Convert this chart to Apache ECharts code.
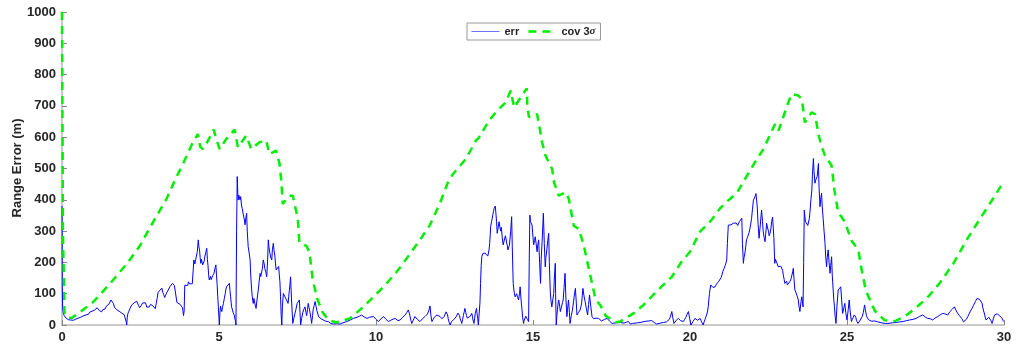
<!DOCTYPE html>
<html>
<head>
<meta charset="utf-8">
<script src="https://cdn.jsdelivr.net/npm/echarts@6/dist/echarts.min.js"></script>
<style>html,body{margin:0;padding:0;background:#fff;}#c{width:1016px;height:350px;}</style>
</head>
<body>
<div id="c"></div>
<script>
const xTicks = [0, 5, 10, 15, 20, 25, 30];
const yTicks = [0, 100, 200, 300, 400, 500, 600, 700, 800, 900, 1000];
const seriesNames = ['err', 'cov 3σ'];
const yAxisTitle = 'Range Error (m)';

const errPoints = [
[0,380],[0.01,120],[0.02,55],[0.04,38],[0.07,30],[0.1,26],[0.13,22],[0.16,19],[0.2,17],[0.24,20],[0.28,16],[0.32,18],[0.36,15],[0.4,21],[0.44,19],[0.48,24],[0.52,22],[0.56,28],[0.6,25],[0.64,31],[0.68,29],[0.72,35],[0.76,32],[0.8,38],[0.84,34],[0.88,41],[0.92,37],[0.96,44],[1.0,40],[1.04,48],[1.08,45],[1.12,55],[1.16,58],[1.19,46],[1.22,50],[1.26,42],[1.3,49],[1.34,55],[1.37,51],[1.41,60],[1.45,57],[1.49,66],[1.53,72],[1.56,80],[1.58,86],[1.61,75],[1.64,68],[1.67,57],[1.7,53],[1.74,49],[1.78,52],[1.82,44],[1.86,46],[1.9,38],[1.94,41],[1.98,33],[2.02,30],[2.05,8],[2.06,0],[2.08,25],[2.1,37],[2.13,44],[2.16,52],[2.19,48],[2.22,64],[2.26,60],[2.3,71],[2.34,67],[2.38,76],[2.41,70],[2.44,62],[2.47,55],[2.5,50],[2.53,63],[2.56,70],[2.59,76],[2.62,68],[2.66,71],[2.7,57],[2.74,62],[2.78,58],[2.82,66],[2.86,70],[2.9,61],[2.94,58],[2.97,52],[3.0,68],[3.03,85],[3.06,104],[3.09,98],[3.12,111],[3.15,108],[3.18,118],[3.21,104],[3.24,97],[3.27,88],[3.3,95],[3.33,102],[3.36,108],[3.4,115],[3.44,123],[3.48,128],[3.52,133],[3.55,139],[3.58,126],[3.61,131],[3.64,120],[3.66,72],[3.69,68],[3.72,74],[3.76,66],[3.8,63],[3.84,55],[3.87,30],[3.89,45],[3.91,127],[3.94,122],[3.97,130],[4.0,126],[4.03,138],[4.06,131],[4.09,135],[4.12,128],[4.15,132],[4.18,127],
[4.2,208],[4.23,195],[4.26,210],[4.29,213],[4.31,235],[4.34,272],[4.36,250],[4.38,240],[4.4,215],[4.42,197],[4.44,210],[4.46,205],[4.48,192],[4.5,187],[4.53,205],[4.55,220],[4.58,232],[4.61,245],[4.63,210],[4.65,190],[4.67,160],[4.69,144],[4.71,150],[4.73,155],[4.75,145],[4.77,149],[4.8,158],[4.84,165],[4.87,180],[4.9,192],[4.92,160],[4.94,130],[4.96,90],[4.98,58],[5.0,20],[5.01,0],[5.03,40],[5.05,60],[5.07,50],[5.09,43],[5.11,55],[5.14,69],[5.17,85],[5.2,101],[5.22,115],[5.24,122],[5.27,118],[5.3,122],[5.33,133],[5.35,110],[5.37,90],[5.4,58],[5.43,48],[5.45,40],[5.48,33],[5.51,27],[5.53,10],[5.54,0],[5.56,300],
[5.58,474],[5.6,420],[5.61,399],[5.63,415],[5.65,420],[5.67,400],[5.69,410],[5.71,390],[5.72,380],[5.74,372],[5.75,367],[5.77,355],[5.79,350],[5.81,335],[5.83,320],[5.85,340],[5.88,357],[5.9,300],[5.93,250],[5.96,230],[5.99,208],[6.01,160],[6.04,112],[6.06,90],[6.09,69],[6.11,85],[6.13,80],[6.16,60],[6.18,53],[6.21,80],[6.25,112],[6.28,140],[6.31,165],[6.33,155],[6.35,149],[6.38,180],[6.41,208],[6.44,195],[6.46,180],[6.49,170],[6.52,154],[6.55,210],[6.57,272],[6.59,250],[6.62,230],[6.65,215],[6.68,208],[6.7,240],[6.73,261],[6.75,240],[6.78,220],[6.8,195],[6.82,176],[6.86,182],[6.9,187],[6.92,160],[6.94,138],[6.96,90],[6.98,30],[7.0,0],[7.02,60],
[7.05,101],[7.08,95],[7.1,90],[7.13,85],[7.15,80],[7.18,75],[7.2,69],[7.22,90],[7.24,110],[7.26,130],[7.28,154],[7.31,80],[7.35,5],[7.38,20],[7.42,37],[7.45,50],[7.49,69],[7.52,75],[7.56,80],[7.58,40],[7.6,0],[7.63,20],[7.67,40],[7.7,50],[7.74,58],[7.77,40],[7.79,30],[7.82,50],[7.84,69],[7.87,55],[7.9,40],[7.93,20],[7.95,5],[7.98,30],[8.0,50],[8.03,62],[8.06,75],[8.09,60],[8.12,45],[8.15,35],[8.17,27],[8.21,24],[8.25,20],[8.28,22],[8.32,16],[8.36,14],[8.4,12],[8.44,13],[8.48,11],[8.52,8],[8.56,5],[8.6,6],[8.64,3],[8.7,5],[8.75,4],[8.8,6],[8.85,3],[8.9,5],[8.95,7],[9.01,9],[9.07,11],[9.12,14],[9.18,16],[9.23,19],[9.28,21],[9.34,24],[9.4,25],[9.47,28],[9.54,32],[9.58,29],[9.62,26],[9.66,23],[9.71,21],[9.75,24],[9.8,25],[9.86,22],[9.92,27],[9.96,22],[10.0,18],[10.04,14],[10.08,11],[10.12,16],[10.16,20],[10.2,24],[10.24,27],[10.28,22],[10.32,18],[10.36,14],[10.4,11],[10.45,14],[10.5,17],[10.55,19],[10.61,21],[10.65,17],[10.7,14],[10.74,18],[10.77,16],[10.81,20],[10.85,25],[10.89,28],[10.93,32],[10.98,40],[11.03,48],[11.06,38],[11.08,30],[11.11,15],[11.14,5],[11.17,12],[11.2,18],[11.24,27],[11.28,22],[11.32,18],[11.36,14],[11.4,11],[11.44,16],[11.48,20],[11.52,24],[11.56,27],[11.6,30],[11.64,35],[11.68,45],[11.72,61],[11.75,30],[11.78,11],[11.82,18],[11.86,25],[11.9,28],[11.94,32],[11.99,29],[12.04,27],[12.07,24],[12.1,20],[12.13,18],[12.15,16],[12.18,28],[12.2,35],[12.23,42],[12.25,48],[12.28,32],[12.3,20],[12.33,8],[12.36,0],[12.4,10],[12.44,15],[12.48,18],[12.52,21],[12.55,26],[12.58,30],[12.61,38],[12.63,43],[12.66,30],[12.68,20],[12.71,12],[12.73,5],[12.76,18],[12.78,30],[12.81,42],[12.83,53],[12.86,40],[12.88,30],[12.91,22],[12.94,16],[12.97,22],[13.0,28],[13.03,33],[13.05,37],[13.07,28],[13.08,20],[13.1,12],[13.12,5],[13.14,20],[13.16,37],[13.18,45],[13.2,53],[13.22,35],[13.24,20],[13.26,0],[13.29,5],
[13.31,70],[13.33,133],[13.35,190],[13.37,218],[13.4,228],[13.44,234],[13.47,230],[13.49,225],[13.51,232],[13.53,229],[13.56,220],[13.58,224],[13.6,240],[13.62,260],[13.64,290],[13.65,314],[13.68,330],[13.7,340],[13.72,352],[13.74,362],[13.76,372],[13.78,370],[13.8,380],[13.82,378],[13.84,330],[13.86,293],[13.88,305],[13.9,310],[13.92,330],[13.93,325],[13.95,310],[13.97,300],[13.99,312],[14.0,304],[14.02,280],[14.05,256],[14.07,265],[14.1,270],[14.12,285],[14.14,277],[14.16,262],[14.18,255],[14.2,240],[14.22,245],[14.25,255],[14.27,261],[14.29,300],[14.32,346],[14.34,250],[14.37,133],[14.4,105],[14.43,90],[14.45,95],[14.48,100],[14.51,88],[14.54,80],[14.57,100],[14.59,122],[14.62,80],[14.65,48],[14.67,25],[14.7,5],[14.72,15],[14.75,20],[14.77,28],[14.79,32],[14.82,18],[14.86,11],[14.88,200],[14.9,351],[14.92,330],[14.95,325],[14.97,319],[15.0,280],[15.02,256],[15.05,270],[15.07,282],[15.1,260],[15.13,234],[15.15,255],[15.18,272],[15.21,200],[15.24,133],[15.26,210],[15.29,266],[15.31,310],[15.33,357],[15.36,260],[15.39,186],[15.41,215],[15.44,240],[15.47,270],[15.5,293],[15.52,200],[15.55,106],[15.57,80],[15.6,58],[15.63,80],[15.66,101],[15.68,150],[15.71,197],[15.72,100],[15.74,0],[15.76,30],[15.78,50],[15.8,70],[15.82,80],[15.85,60],[15.87,43],[15.9,55],[15.92,60],[15.94,72],[15.96,80],[15.99,120],[16.02,165],[16.05,80],[16.08,27],[16.1,50],[16.13,80],[16.16,40],[16.18,5],
[16.2,18],[16.22,30],[16.25,45],[16.27,58],[16.31,90],[16.35,117],[16.38,70],[16.4,32],[16.43,36],[16.45,40],[16.48,45],[16.5,48],[16.53,60],[16.55,70],[16.57,95],[16.59,117],[16.62,95],[16.66,75],[16.7,52],[16.74,32],[16.77,65],[16.8,96],[16.84,60],[16.88,27],[16.9,22],[16.93,20],[16.95,18],[16.98,16],[17.01,22],[17.04,25],[17.06,23],[17.09,21],[17.12,18],[17.15,15],[17.18,13],[17.2,11],[17.24,15],[17.28,18],[17.32,20],[17.36,21],[17.4,16],[17.44,12],[17.48,8],[17.52,5],[17.58,6],[17.65,7],[17.71,9],[17.78,8],[17.84,7],[17.9,6],[17.97,9],[18.04,11],[18.07,7],[18.1,3],[18.17,5],[18.25,6],[18.33,7],[18.41,8],[18.5,10],[18.6,12],[18.69,13],[18.78,14],[18.82,11],[18.86,8],[18.9,5],[18.94,3],[19.0,5],[19.05,6],[19.1,7],[19.15,8],[19.2,9],[19.25,10],[19.31,11],[19.34,18],[19.37,25],[19.4,35],[19.42,43],[19.45,25],[19.49,5],[19.52,10],[19.56,15],[19.6,18],[19.63,21],[19.66,17],[19.7,14],[19.75,12],[19.79,11],[19.83,18],[19.87,25],[19.91,35],[19.95,43],[19.99,20],[20.03,0],[20.06,6],[20.1,12],[20.13,16],[20.16,21],[20.2,18],[20.24,15],[20.28,18],[20.32,21],[20.37,10],[20.42,0],[20.45,10],[20.48,18],[20.5,25],[20.53,32],[20.56,45],
[20.58,58],[20.6,80],[20.62,100],[20.64,115],[20.66,128],[20.7,124],[20.73,120],[20.77,126],[20.8,122],[20.84,130],[20.88,135],[20.92,140],[20.96,144],[20.99,152],[21.02,160],[21.04,170],[21.06,176],[21.09,182],[21.12,190],[21.15,200],[21.17,208],[21.19,260],[21.22,319],[21.26,316],[21.3,320],[21.34,318],[21.38,325],[21.41,330],[21.44,320],[21.47,326],[21.49,330],[21.52,318],[21.54,322],[21.57,330],[21.59,325],[21.62,335],[21.65,341],[21.67,260],[21.7,197],[21.72,215],[21.75,230],[21.78,255],[21.8,272],[21.83,280],[21.85,285],[21.88,295],[21.9,304],[21.93,320],[21.96,340],[21.99,370],[22.02,399],[22.05,405],[22.07,410],[22.1,420],[22.12,426],[22.14,380],[22.17,320],[22.2,277],[22.22,300],[22.24,320],[22.26,345],[22.28,367],[22.31,330],[22.33,300],[22.36,280],[22.39,266],[22.41,290],[22.44,325],[22.47,310],[22.5,300],[22.52,285],[22.55,293],[22.58,310],[22.6,330],[22.63,345],[22.65,351],[22.67,280],[22.7,197],[22.72,210],[22.75,205],[22.78,195],[22.81,186],[22.84,190],[22.86,180],[22.89,188],[22.92,192],[22.95,175],[22.97,160],[23.0,145],[23.02,133],[23.05,138],[23.08,140],[23.1,128],[23.13,122],[23.16,132],[23.19,140],[23.22,148],[23.24,154],[23.27,170],[23.29,181],[23.31,150],[23.34,112],[23.37,105],[23.4,100],[23.42,90],[23.45,80],[23.47,60],[23.5,43],[23.53,70],[23.56,90],[23.58,75],[23.6,58],[23.62,200],[23.64,367],[23.66,345],[23.68,330],[23.7,328],[23.72,325],[23.75,318],[23.77,314],[23.8,340],[23.82,360],[23.85,400],[23.88,431],[23.9,480],[23.93,532],[23.95,490],[23.98,453],[24.01,465],[24.05,474],[24.07,495],[24.09,516],[24.11,440],[24.14,378],[24.16,400],[24.19,421],[24.21,380],[24.24,341],[24.27,300],[24.3,261],[24.32,220],[24.35,186],[24.37,215],[24.4,240],[24.43,200],[24.46,165],[24.48,190],[24.51,218],[24.53,160],[24.56,112],[24.58,80],[24.6,60],[24.62,30],[24.65,5],
[24.68,60],[24.72,112],[24.76,118],[24.8,122],[24.83,80],[24.86,37],[24.9,55],[24.93,69],[24.96,40],[25.0,16],[25.04,50],[25.07,80],[25.1,45],[25.14,11],[25.17,18],[25.2,25],[25.23,32],[25.25,37],[25.28,25],[25.3,15],[25.33,10],[25.35,5],[25.38,9],[25.4,12],[25.43,14],[25.46,16],[25.49,28],[25.52,40],[25.54,52],[25.56,64],[25.59,45],[25.62,30],[25.65,22],[25.67,16],[25.71,15],[25.75,14],[25.79,12],[25.83,11],[25.88,13],[25.93,12],[25.98,10],[26.04,8],[26.1,7],[26.15,6],[26.22,5],[26.3,5],[26.37,6],[26.45,7],[26.51,8],[26.57,8],[26.62,9],[26.68,10],[26.73,11],[26.78,11],[26.84,13],[26.9,14],[26.95,15],[26.99,16],[27.05,17],[27.1,18],[27.15,20],[27.2,21],[27.25,24],[27.3,27],[27.35,30],[27.41,32],[27.45,28],[27.5,25],[27.54,23],[27.57,21],[27.61,22],[27.65,20],[27.69,18],[27.73,16],[27.77,19],[27.8,22],[27.85,25],[27.89,27],[27.93,30],[27.97,33],[28.01,35],[28.05,37],[28.09,36],[28.13,35],[28.17,33],[28.21,32],[28.24,37],[28.27,42],[28.3,45],[28.32,48],[28.35,50],[28.37,52],[28.4,55],[28.42,58],[28.45,52],[28.48,45],[28.5,41],[28.53,37],[28.56,33],[28.58,30],[28.61,28],[28.63,27],[28.66,20],[28.68,15],[28.71,10],[28.74,5],[28.77,12],[28.8,18],[28.83,23],[28.85,27],[28.88,34],[28.9,40],[28.93,44],[28.95,48],[28.98,53],[29.0,58],[29.03,63],[29.06,69],[29.09,75],[29.11,80],[29.14,85],[29.16,90],[29.19,86],[29.22,82],[29.25,81],[29.27,80],[29.3,70],[29.32,58],[29.35,45],[29.38,35],[29.4,25],[29.43,16],[29.46,19],[29.48,22],[29.51,25],[29.54,27],[29.56,20],[29.58,15],[29.6,10],[29.62,5],[29.64,12],[29.66,20],[29.68,26],[29.7,32],[29.73,34],[29.75,35],[29.78,36],[29.8,37],[29.83,33],[29.85,30],[29.88,28],[29.91,27],[29.93,23],[29.95,20],[29.97,15],[29.98,11]
];

const covPoints = [
[0,1000],[0.03,300],[0.08,40],[0.15,25],[0.3,22],[0.57,41],[0.99,73],[1.52,131],[2.06,195],[2.48,253],[2.9,329],[3.33,403],[3.64,472],[3.85,514],[4.17,584],[4.33,610],[4.4,570],[4.48,562],[4.65,589],[4.83,624],[4.9,600],[5.02,562],[5.23,594],[5.5,624],[5.6,568],[5.87,605],[6.03,562],[6.29,584],[6.5,589],[6.61,546],[6.82,557],[6.93,514],[6.98,466],[7.03,387],[7.24,413],[7.35,413],[7.51,339],[7.56,264],[7.78,253],[7.88,233],[7.98,147],[8.13,83],[8.3,40],[8.5,15],[8.75,8],[9.17,21],[9.6,58],[9.92,90],[10.24,122],[10.66,170],[10.98,213],[11.4,272],[11.72,320],[12.04,390],[12.33,466],[12.58,498],[12.86,530],[13.18,589],[13.28,599],[13.6,653],[13.86,685],[14.13,711],[14.29,749],[14.4,695],[14.61,727],[14.8,756],[14.82,701],[14.87,664],[15.03,669],[15.13,674],[15.19,642],[15.29,584],[15.4,541],[15.61,498],[15.67,456],[15.82,413],[16.04,424],[16.14,403],[16.3,317],[16.46,307],[16.62,253],[16.78,179],[16.99,83],[17.15,62],[17.31,30],[17.63,9],[17.77,11],[18.2,37],[18.52,64],[18.83,96],[19.15,128],[19.42,154],[19.73,202],[20.0,234],[20.32,298],[20.64,330],[20.96,373],[21.17,394],[21.49,421],[21.7,458],[22.13,530],[22.34,562],[22.71,642],[22.82,621],[23.13,711],[23.24,738],[23.45,733],[23.56,722],[23.66,647],[23.87,679],[23.98,674],[24.09,610],[24.19,570],[24.3,541],[24.51,509],[24.6,430],[24.72,360],[24.93,330],[25.14,270],[25.36,240],[25.46,180],[25.6,110],[25.89,45],[26.2,15],[26.52,12],[26.84,28],[27.11,48],[27.54,85],[27.96,135],[28.39,197],[28.81,272],[29.24,340],[29.66,405],[30,460]
];

const chart = echarts.init(document.getElementById('c'), null, {renderer: 'canvas'});
const fontFam = 'Liberation Sans, Arial, sans-serif';
const labelStyle = {color: '#262626', fontSize: 13, fontWeight: 'bold', fontFamily: fontFam};
chart.setOption({
  animation: false,
  backgroundColor: '#ffffff',
  grid: {left: 62, right: 12, top: 12, bottom: 25, containLabel: false, outerBoundsMode: 'none'},
  graphic: [{
    type: 'text', x: 17, y: 168, rotation: Math.PI / 2, silent: true,
    style: {text: yAxisTitle, align: 'center', verticalAlign: 'middle', fill: '#262626',
      font: 'bold 13px Liberation Sans, Arial, sans-serif'}
  }],
  legend: {
    left: 467, top: 23,
    data: [
      {name: seriesNames[0], lineStyle: {width: 1, color: '#7070ff', type: 'solid'}},
      {name: seriesNames[1], lineStyle: {width: 2.5, color: '#00ee00', type: [8, 6]}}
    ],
    itemWidth: 28, itemHeight: 10, itemGap: 8,
    padding: [3, 5, 3, 4],
    borderColor: '#999', borderWidth: 1,
    itemStyle: {opacity: 0},
    textStyle: {color: '#262626', fontSize: 11, fontWeight: 'bold', fontFamily: fontFam,
      rich: {i: {fontStyle: 'italic', fontSize: 11, fontWeight: 'bold', color: '#262626', fontFamily: 'Liberation Serif, serif'}}},
    formatter: function (n) { return n === 'cov 3σ' ? 'cov 3{i|σ}' : n; }
  },
  xAxis: {
    type: 'value', min: 0, max: 30, interval: 5,
    axisLine: {show: true, lineStyle: {color: '#b8b8b8', width: 1.5}},
    axisTick: {show: true, inside: true, length: 5, lineStyle: {color: '#888'}},
    axisLabel: Object.assign({margin: 6, formatter: function(v){ return xTicks.indexOf(v) >= 0 ? String(v) : ''; }}, labelStyle),
    splitLine: {show: false}
  },
  yAxis: {
    type: 'value', min: 0, max: 1000, interval: 100,
    axisLine: {show: true, lineStyle: {color: '#b8b8b8', width: 1.5}},
    axisTick: {show: true, inside: true, length: 5, lineStyle: {color: '#888'}},
    axisLabel: Object.assign({margin: 6, formatter: function(v){ return yTicks.indexOf(v) >= 0 ? String(v) : ''; }}, labelStyle),
    splitLine: {show: false}
  },
  series: [
    {
      name: 'err', type: 'line', data: errPoints, showSymbol: false, symbol: 'none',
      lineStyle: {color: '#0000ff', width: 1}, itemStyle: {color: '#0000ff'}, z: 2
    },
    {
      name: 'cov 3σ', type: 'line', data: covPoints, showSymbol: false, symbol: 'none',
      lineStyle: {color: '#00ee00', width: 2.5, type: [8, 6]}, itemStyle: {color: '#00ee00'}, z: 3
    }
  ]
});
</script>
</body>
</html>
